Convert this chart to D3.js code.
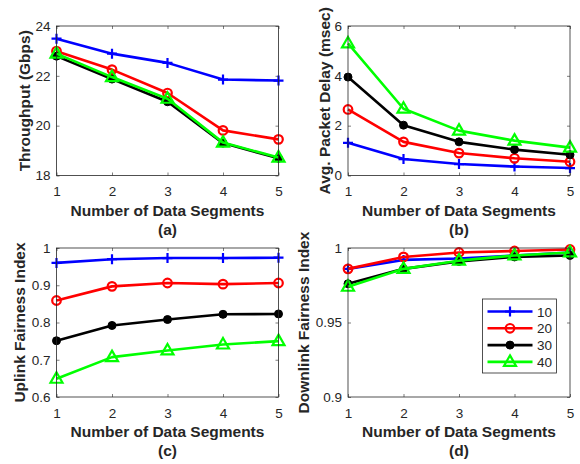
<!DOCTYPE html>
<html>
<head>
<meta charset="utf-8">
<script src="https://cdn.jsdelivr.net/npm/d3@7"></script>
<style>
body { margin: 0; background: #fff; }
svg text { font-family: "Liberation Sans", Arial, sans-serif; fill: #262626; }
</style>
</head>
<body>
<svg id="chart" width="580" height="464"></svg>
<script>
// data
var segments = [1, 2, 3, 4, 5];
var seriesNames = ['10', '20', '30', '40'];

var throughput10 = [23.49, 22.89, 22.52, 21.85, 21.81];
var throughput20 = [22.99, 22.25, 21.31, 19.81, 19.45];
var throughput30 = [22.79, 21.87, 20.96, 19.30, 18.69];
var throughput40 = [22.89, 21.95, 21.08, 19.32, 18.72];

var delay10 = [1.31, 0.66, 0.46, 0.36, 0.30];
var delay20 = [2.65, 1.35, 0.90, 0.69, 0.55];
var delay30 = [3.95, 2.02, 1.35, 1.04, 0.83];
var delay40 = [5.30, 2.68, 1.80, 1.40, 1.12];

var uplink10 = [0.960, 0.970, 0.973, 0.973, 0.974];
var uplink20 = [0.859, 0.897, 0.906, 0.903, 0.906];
var uplink30 = [0.751, 0.792, 0.808, 0.822, 0.823];
var uplink40 = [0.649, 0.707, 0.725, 0.741, 0.750];

var downlink10 = [0.986, 0.992, 0.993, 0.995, 0.997];
var downlink20 = [0.986, 0.994, 0.997, 0.998, 0.999];
var downlink30 = [0.976, 0.986, 0.991, 0.994, 0.995];
var downlink40 = [0.974, 0.986, 0.9915, 0.995, 0.997];

var throughputTicks = [18, 20, 22, 24];
var delayTicks = [0, 2, 4, 6];
var uplinkTicks = [0.6, 0.7, 0.8, 0.9, 1];
var downlinkTicks = [0.9, 0.95, 1];

var colors = ['#0000ff', '#ff0000', '#000000', '#00ff00'];
var markers = ['plus', 'circle', 'dot', 'triangle'];

var svg = d3.select('#chart');

drawPanel({ left: 56.5, right: 278.5, top: 26, bottom: 175.5 },
	[18, 24], throughputTicks, 'Throughput (Gbps)', 24, '(a)',
	[throughput10, throughput20, throughput30, throughput40], false);
drawPanel({ left: 348, right: 570, top: 26, bottom: 175.5 },
	[0, 6], delayTicks, 'Avg. Packet Delay (msec)', 324, '(b)',
	[delay10, delay20, delay30, delay40], false);
drawPanel({ left: 56.5, right: 278.5, top: 248, bottom: 397 },
	[0.6, 1], uplinkTicks, 'Uplink Fairness Index', 19, '(c)',
	[uplink10, uplink20, uplink30, uplink40], false);
drawPanel({ left: 348, right: 570, top: 248, bottom: 397 },
	[0.9, 1], downlinkTicks, 'Downlink Fairness Index', 303.5, '(d)',
	[downlink10, downlink20, downlink30, downlink40], true);

function markerPath(type) {
	if (type == 'plus') return 'M-5,0H5M0,-5V5';
	if (type == 'triangle') return 'M0,-6.5L6,4L-6,4Z';
	return null;
}

function drawMarker(g, type, color, x, y) {
	if (type == 'circle') {
		g.append('circle').attr('cx', x).attr('cy', y).attr('r', 4.3)
			.attr('fill', 'none').attr('stroke', color).attr('stroke-width', 2.2);
	} else if (type == 'dot') {
		g.append('circle').attr('cx', x).attr('cy', y).attr('r', 4)
			.attr('fill', color).attr('stroke', color).attr('stroke-width', 1);
	} else {
		g.append('path').attr('d', markerPath(type)).attr('transform', 'translate(' + x + ',' + y + ')')
			.attr('fill', 'none').attr('stroke', color).attr('stroke-width', 2.2);
	}
}

function drawPanel(box, yDomain, yTicks, yTitle, yTitleX, caption, series, withLegend) {
	var x = d3.scaleLinear().domain([1, 5]).range([box.left, box.right]);
	var y = d3.scaleLinear().domain(yDomain).range([box.bottom, box.top]);
	var g = svg.append('g');

	g.append('rect').attr('x', box.left).attr('y', box.top)
		.attr('width', box.right - box.left).attr('height', box.bottom - box.top)
		.attr('fill', '#fff');

	var fmt = function(d) { return String(+d.toFixed(2)); };

	var bottom = g.append('g').attr('transform', 'translate(0,' + box.bottom + ')')
		.call(d3.axisBottom(x).tickValues(segments).tickSize(-3).tickPadding(11).tickFormat(fmt));
	var left = g.append('g').attr('transform', 'translate(' + box.left + ',0)')
		.call(d3.axisLeft(y).tickValues(yTicks).tickSize(-3).tickPadding(6).tickFormat(fmt));
	var top = g.append('g').attr('transform', 'translate(0,' + box.top + ')')
		.call(d3.axisTop(x).tickValues(segments).tickSize(-3).tickFormat(''));
	var right = g.append('g').attr('transform', 'translate(' + box.right + ',0)')
		.call(d3.axisRight(y).tickValues(yTicks).tickSize(-3).tickFormat(''));

	[bottom, left, top, right].forEach(function(a) {
		a.select('.domain').remove();
		a.selectAll('line').attr('stroke', '#262626').attr('stroke-width', 0.6);
		a.selectAll('text').attr('font-size', '13.5px').attr('fill', '#262626')
			.style('font-family', '"Liberation Sans", Arial, sans-serif');
	});

	var line = d3.line().x(function(d, i) { return x(segments[i]); }).y(function(d) { return y(d); });

	series.forEach(function(values, s) {
		g.append('path').datum(values).attr('d', line)
			.attr('fill', 'none').attr('stroke', colors[s]).attr('stroke-width', 2.6)
			.attr('stroke-linejoin', 'round');
		values.forEach(function(v, i) {
			drawMarker(g, markers[s], colors[s], x(segments[i]), y(v));
		});
	});

	g.append('rect').attr('x', box.left).attr('y', box.top)
		.attr('width', box.right - box.left).attr('height', box.bottom - box.top)
		.attr('fill', 'none').attr('stroke', '#262626').attr('stroke-width', 0.8);

	var midX = (box.left + box.right) / 2;
	g.append('text').attr('x', midX).attr('y', box.bottom + 40)
		.attr('text-anchor', 'middle').attr('font-size', '15.5px').attr('font-weight', 'bold')
		.text('Number of Data Segments');
	g.append('text').attr('x', midX).attr('y', box.bottom + 59)
		.attr('text-anchor', 'middle').attr('font-size', '15.5px').attr('font-weight', 'bold')
		.text(caption);

	var midY = (box.top + box.bottom) / 2;
	g.append('text').attr('transform', 'translate(' + (yTitleX + 5.5) + ',' + midY + ') rotate(-90)')
		.attr('text-anchor', 'middle').attr('font-size', '15.5px').attr('font-weight', 'bold')
		.text(yTitle);

	if (withLegend) {
		var lg = svg.append('g');
		lg.append('rect').attr('x', 482.5).attr('y', 299).attr('width', 74).attr('height', 74)
			.attr('fill', '#fff').attr('stroke', '#262626').attr('stroke-width', 0.8);
		seriesNames.forEach(function(name, s) {
			var ly = 311.5 + s * 16.8;
			lg.append('line').attr('x1', 487.5).attr('x2', 532.5).attr('y1', ly).attr('y2', ly)
				.attr('stroke', colors[s]).attr('stroke-width', 2.6);
			drawMarker(lg, markers[s], colors[s], 510, ly);
			lg.append('text').attr('x', 537).attr('y', ly + 5).attr('font-size', '13.5px').text(name);
		});
	}
}
</script>
</body>
</html>
